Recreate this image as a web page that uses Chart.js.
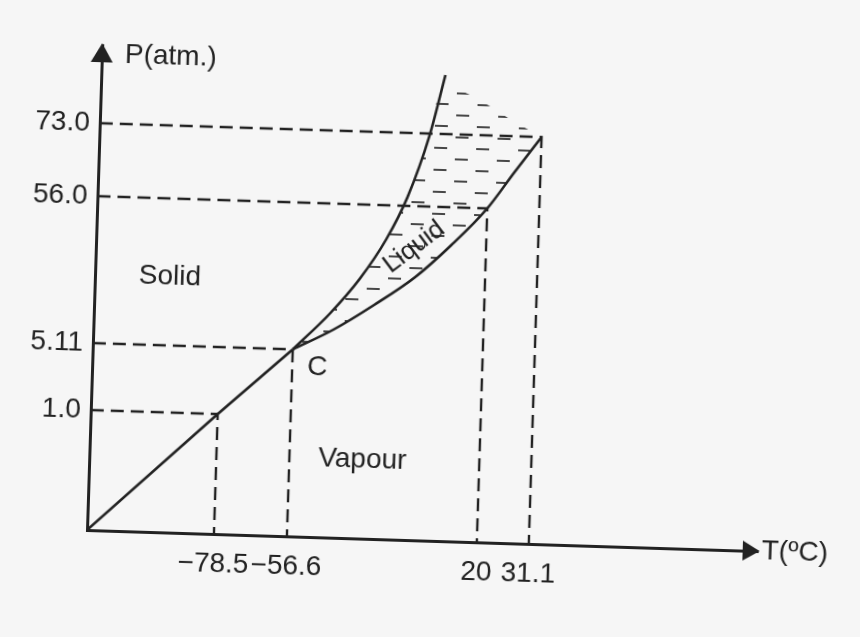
<!DOCTYPE html>
<html>
<head>
<meta charset="utf-8">
<script src="https://cdn.jsdelivr.net/npm/chart.js@4.4.1/dist/chart.umd.min.js"></script>
<style>
  html, body { margin: 0; padding: 0; background: #f6f6f6; overflow: hidden; }
  /* the scanned page sits slightly askew */
  #phase { display: block; transform: rotate(1.8deg); transform-origin: 87px 530px; }
</style>
</head>
<body>
<canvas id="phase" width="860" height="637"></canvas>
<script>
'use strict';
// schematic positions along each axis (the drawing is not to scale)
const tempLabels = ['\u221278.5', '\u221256.6', '20', '31.1'];
const tempPos = [127, 200, 390, 442];
const presLabels = ['1.0', '5.11', '56.0', '73.0'];
const presPos = [120, 187, 334, 407];

// sublimation line: origin -> triple point C
const sublT = [0, 127, 200];
const sublP = [0, 120, 187];
// fusion curve (solid | liquid)
const meltT = [200, 236, 265, 290, 310, 330, 344];
const meltP = [187, 224, 260, 300, 343, 405, 466];
// vaporisation curve: C -> critical point
const vapT = [200, 240, 280, 320, 355, 390, 416, 442];
const vapP = [187, 208, 234, 263, 296, 334, 371, 407];
// top edge of the shaded liquid area above the critical point
const liqTopT = [341, 369, 415, 442];
const liqTopP = [455, 447, 421, 407];

const ink = '#222222';
const face = '"Liberation Sans", Arial, sans-serif';

// short dashes used to shade the liquid region
function hatchPattern() {
  const tile = document.createElement('canvas');
  tile.width = 42;
  tile.height = 22;
  const c = tile.getContext('2d');
  c.strokeStyle = 'rgba(40,40,40,0.85)';
  c.lineWidth = 1.8;
  c.beginPath();
  c.moveTo(2, 5); c.lineTo(15, 5);
  c.moveTo(23, 16); c.lineTo(36, 16);
  c.stroke();
  return c.createPattern(tile, 'repeat');
}

const pts = (xs, ys) => xs.map((x, i) => ({x, y: ys[i]}));
const curve = (xs, ys) => ({
  data: pts(xs, ys),
  borderColor: ink,
  borderWidth: 2.6,
  pointRadius: 0,
  fill: false,
  cubicInterpolationMode: 'monotone'
});

const liquidT = meltT.slice(0, 6).concat(liqTopT);
const liquidP = meltP.slice(0, 6).concat(liqTopP);

const guides = tempPos.map((t, i) => ({
  data: [{x: 0, y: presPos[i]}, {x: t, y: presPos[i]}, {x: t, y: 0}],
  borderColor: ink,
  borderWidth: 2.4,
  borderDash: [13, 7],
  pointRadius: 0,
  fill: false,
  tension: 0
}));

const regionLabels = [
  {text: 'Solid', t: 75, p: 256, angle: 0, size: 28},
  {text: 'Vapour', t: 273, p: 79, angle: 0, size: 28},
  {text: 'C', t: 225, p: 170, angle: 0, size: 28},
  {text: 'Liquid', t: 318, p: 293, angle: -38.8, size: 26}
];

const arrowsAndLabels = {
  id: 'arrowsAndLabels',
  afterDraw(chart) {
    const {ctx, chartArea: area, scales: {x, y}} = chart;
    ctx.save();
    ctx.fillStyle = ink;
    // arrow heads
    ctx.beginPath();
    ctx.moveTo(area.right + 2, area.bottom);
    ctx.lineTo(area.right - 15, area.bottom - 10);
    ctx.lineTo(area.right - 15, area.bottom + 10);
    ctx.closePath();
    ctx.fill();
    ctx.beginPath();
    ctx.moveTo(area.left, area.top - 2);
    ctx.lineTo(area.left - 11, area.top + 17);
    ctx.lineTo(area.left + 11, area.top + 17);
    ctx.closePath();
    ctx.fill();

    ctx.font = '28px ' + face;
    ctx.textBaseline = 'middle';
    ctx.textAlign = 'left';
    ctx.fillText('P(atm.)', x.getPixelForValue(23), y.getPixelForValue(476));
    ctx.fillText('T(\u00baC)', x.getPixelForValue(675), y.getPixelForValue(0));

    ctx.textAlign = 'center';
    regionLabels.forEach(l => {
      ctx.save();
      ctx.font = l.size + 'px ' + face;
      ctx.translate(x.getPixelForValue(l.t), y.getPixelForValue(l.p));
      ctx.rotate(l.angle * Math.PI / 180);
      ctx.fillText(l.text, 0, 0);
      ctx.restore();
    });
    ctx.restore();
  }
};

new Chart(document.getElementById('phase'), {
  type: 'line',
  data: {
    datasets: [
      {
        data: pts(liquidT, liquidP),
        borderColor: 'transparent',
        borderWidth: 0,
        pointRadius: 0,
        backgroundColor: hatchPattern(),
        fill: '+1',
        cubicInterpolationMode: 'monotone'
      },
      curve(vapT, vapP),
      curve(meltT, meltP),
      Object.assign(curve(sublT, sublP), {cubicInterpolationMode: 'default', tension: 0}),
      ...guides
    ]
  },
  plugins: [arrowsAndLabels],
  options: {
    responsive: false,
    animation: false,
    events: [],
    layout: {padding: {top: 45, right: 102, left: 0, bottom: 0}},
    plugins: {legend: {display: false}, tooltip: {enabled: false}},
    scales: {
      x: {
        type: 'linear',
        min: 0,
        max: 671,
        grid: {display: false, drawTicks: false},
        border: {display: true, color: ink, width: 3},
        afterBuildTicks: axis => { axis.ticks = tempPos.map(value => ({value})); },
        afterFit: axis => { axis.height = 107; },
        ticks: {
          autoSkip: false, maxRotation: 0, minRotation: 0, padding: 13,
          color: ink, font: {family: face, size: 28},
          callback: (value, index) => tempLabels[index]
        }
      },
      y: {
        type: 'linear',
        min: 0,
        max: 485,
        grid: {display: false, drawTicks: false},
        border: {display: true, color: ink, width: 3},
        afterBuildTicks: axis => { axis.ticks = presPos.map(value => ({value})); },
        afterFit: axis => { axis.width = 87; },
        ticks: {
          autoSkip: false, padding: 10,
          color: ink, font: {family: face, size: 28},
          callback: (value, index) => presLabels[index]
        }
      }
    }
  }
});
</script>
</body>
</html>
